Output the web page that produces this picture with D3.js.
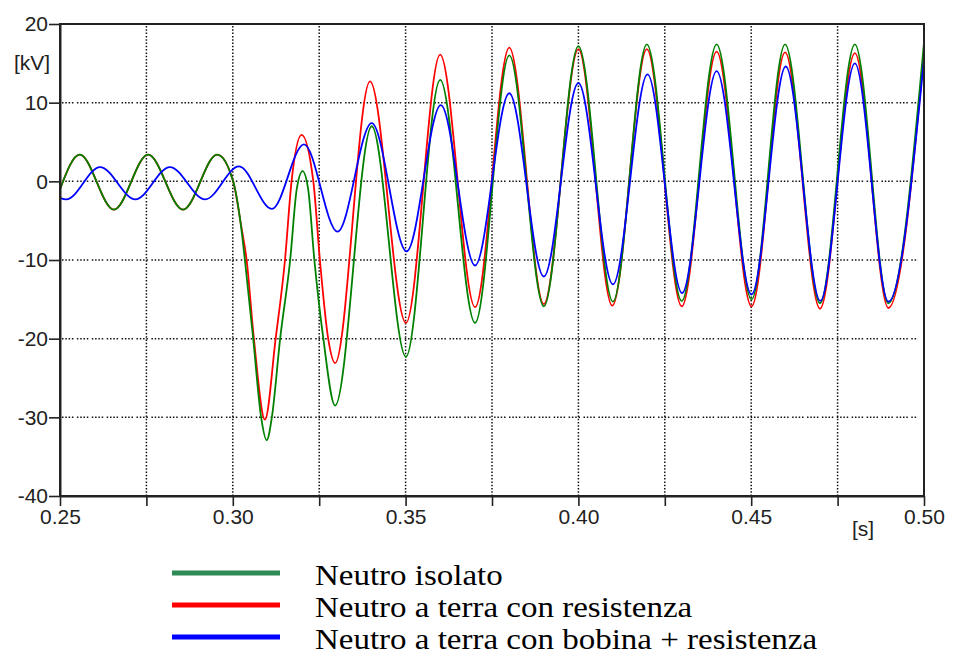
<!DOCTYPE html>
<meta charset="utf-8">
<style>
body { margin: 0; background: #fff; }
.axis text { font: 21px "Liberation Sans", Arial, sans-serif; fill: #222; }
.axis path, .axis line { stroke: #222; }
.grid line { stroke: #111; stroke-width: 1.5px; }
.unit { font: 21px "Liberation Sans", Arial, sans-serif; fill: #222; }
.legend text { font: 30px "Liberation Serif", "Times New Roman", serif; fill: #000; }
.curve { fill: none; stroke-width: 1.8px; stroke-linejoin: round; }
</style>
<svg width="957" height="666"></svg>
<script src="https://cdnjs.cloudflare.com/ajax/libs/d3/7.8.5/d3.min.js"></script>
<script>

// time [s], voltage [kV] — peaks, troughs and a few crossings
var neutroIsolato = [
  [0.2500, -1.0], [0.2557, 3.4], [0.2656, -3.6], [0.2755, 3.4], [0.2856, -3.6],
  [0.2955, 3.4], [0.3001, 0.0], [0.3024, -5.8], [0.3035, -10], [0.3059, -20],
  [0.3082, -30], [0.3098, -32.9], [0.3113, -30], [0.3137, -20], [0.3166, -10],
  [0.3185, -1.0], [0.3202, 1.3], [0.3218, -1.0], [0.3236, -10], [0.3262, -20],
  [0.3296, -28.5], [0.3402, 7.0], [0.3501, -22.3], [0.3600, 12.9], [0.3701, -18.0],
  [0.3800, 16.0], [0.3900, -15.9], [0.4000, 17.2], [0.4100, -15.3], [0.4198, 17.4],
  [0.4299, -15.2], [0.4400, 17.4], [0.4501, -15.0], [0.4598, 17.4], [0.4699, -15.5],
  [0.4800, 17.4], [0.4897, -15.5], [0.5000, 17.6]
];

var neutroResistenza = [
  [0.2500, -1.0], [0.2557, 3.4], [0.2656, -3.6], [0.2755, 3.4], [0.2856, -3.6],
  [0.2955, 3.4], [0.3001, 0.0], [0.3024, -5.6], [0.3040, -10], [0.3061, -20],
  [0.3093, -30.3], [0.3124, -20], [0.3151, -10], [0.3170, 0.0], [0.3199, 5.9],
  [0.3233, 0.0], [0.3252, -10], [0.3276, -20], [0.3296, -23.1], [0.3397, 12.7],
  [0.3501, -18.0], [0.3600, 16.1], [0.3701, -16.0], [0.3800, 17.0], [0.3900, -15.6],
  [0.4000, 16.8], [0.4098, -15.8], [0.4198, 16.8], [0.4299, -15.9], [0.4400, 16.5],
  [0.4501, -15.9], [0.4598, 16.4], [0.4699, -16.2], [0.4800, 16.3], [0.4897, -16.1],
  [0.5000, 16.4]
];

var neutroBobina = [
  [0.2500, -2.1], [0.2518, -2.3], [0.2616, 1.8], [0.2718, -2.3], [0.2818, 1.8],
  [0.2920, -2.3], [0.3018, 1.9], [0.3113, -3.5], [0.3206, 4.7], [0.3303, -6.4],
  [0.3402, 7.4], [0.3503, -8.9], [0.3602, 9.7], [0.3701, -10.7], [0.3800, 11.2],
  [0.3900, -12.1], [0.4000, 12.5], [0.4100, -13.1], [0.4200, 13.6], [0.4300, -14.2],
  [0.4400, 14.0], [0.4501, -14.4], [0.4600, 14.6], [0.4700, -15.2], [0.4800, 15.0],
  [0.4897, -15.3], [0.5000, 15.6]
];

var xTicks = [0.25, 0.275, 0.30, 0.325, 0.35, 0.375, 0.40, 0.425, 0.45, 0.475, 0.50];
var xLabels = ["0.25", "", "0.30", "", "0.35", "", "0.40", "", "0.45", "", "0.50"];
var yTicks = [-40, -30, -20, -10, 0, 10, 20];

var legendNames = ["Neutro isolato", "Neutro a terra con resistenza", "Neutro a terra con bobina + resistenza"];
var legendColors = ["#2e8b57", "#ff0000", "#0000ff"];

var svg = d3.select("svg"),
    plotLeft = 60, plotRight = 924, plotTop = 24, plotBottom = 496;

var x = d3.scaleLinear().domain([0.25, 0.50]).range([plotLeft, plotRight]);
var y = d3.scaleLinear().domain([-40, 20]).range([plotBottom, plotTop]);

// grid
var grid = svg.append("g").attr("class", "grid");
grid.selectAll(".v").data(xTicks.slice(1, -1)).enter().append("line")
    .attr("x1", d => x(d)).attr("x2", d => x(d))
    .attr("y1", plotTop + 2).attr("y2", plotBottom)
    .attr("stroke-dasharray", "1.5,1.8");
grid.selectAll(".h").data(yTicks.slice(1, -1)).enter().append("line")
    .attr("x1", plotLeft + 2).attr("x2", plotRight - 6)
    .attr("y1", d => y(d)).attr("y2", d => y(d))
    .attr("stroke-dasharray", "1.5,1.8,1.5,1.8,1.5,1.8,1.5,3.5");

// curves
var line = d3.line()
    .x(d => x(d[0]))
    .y(d => y(d[1]))
    .curve(d3.curveMonotoneX);

svg.append("path").datum(neutroResistenza).attr("class", "curve").attr("stroke", "#ff0000").attr("d", line);
svg.append("path").datum(neutroIsolato).attr("class", "curve").attr("stroke", "#008000").attr("d", line);
svg.append("path").datum(neutroBobina).attr("class", "curve").attr("stroke", "#0000ff").attr("d", line);

// frame
svg.append("rect")
    .attr("x", plotLeft).attr("y", plotTop)
    .attr("width", plotRight - plotLeft).attr("height", plotBottom - plotTop)
    .attr("fill", "none").attr("stroke", "#222").attr("stroke-width", 2);

// axes
svg.append("g").attr("class", "axis")
    .attr("transform", "translate(0," + plotBottom + ")")
    .call(d3.axisBottom(x).tickValues(xTicks).tickSize(10).tickSizeOuter(0).tickPadding(3)
      .tickFormat((d, i) => xLabels[i]));
svg.append("g").attr("class", "axis")
    .attr("transform", "translate(" + plotLeft + ",0)")
    .call(d3.axisLeft(y).tickValues(yTicks).tickSize(11).tickSizeOuter(0).tickPadding(1)
      .tickFormat(d => String(d)));
svg.selectAll(".axis .domain").attr("stroke-width", 2);
svg.selectAll(".axis .tick line").attr("stroke-width", 1.6);

svg.append("text").attr("class", "unit").attr("x", 14).attr("y", 70).text("[kV]");
svg.append("text").attr("class", "unit").attr("x", 852).attr("y", 536).text("[s]");

// legend
var legend = svg.append("g").attr("class", "legend");
var rows = legend.selectAll("g").data(legendNames).enter().append("g")
    .attr("transform", (d, i) => "translate(0," + (573 + i * 32) + ")");
rows.append("line")
    .attr("x1", 172).attr("x2", 280)
    .attr("stroke", (d, i) => legendColors[i])
    .attr("stroke-width", 5);
rows.append("text")
    .attr("transform", "translate(315,12) scale(1.1,1)")
    .text(d => d);

</script>
